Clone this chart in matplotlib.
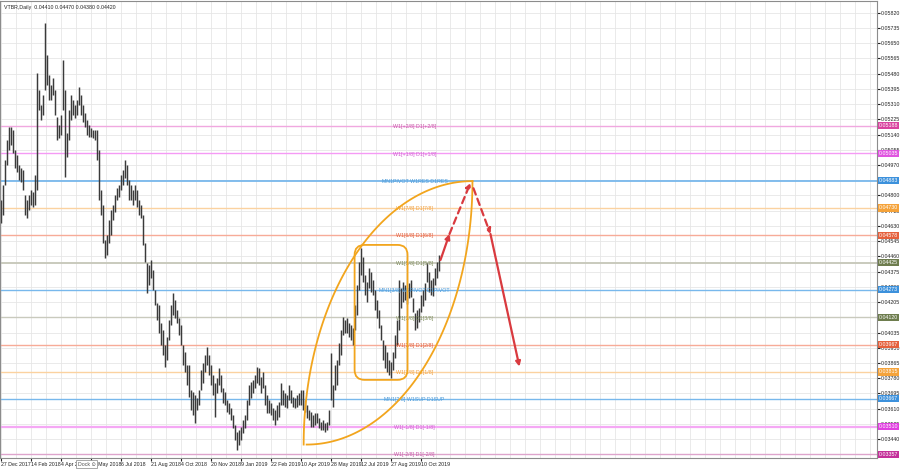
import matplotlib
matplotlib.use("Agg")
import matplotlib.pyplot as plt
import matplotlib.transforms as mtransforms
from matplotlib.patches import FancyBboxPatch
import numpy as np

# ---------------- data (prices in 1e-5 units) ----------------
highs = [4775, 4859, 4998, 5110, 5182, 5182, 5166, 5054, 5026, 4970,
         4954, 4942, 4803, 4775, 4803, 4831, 4820, 4914, 5484, 5389,
         5305, 5361, 5763, 5584, 5472, 5417, 5456, 5389, 5238, 5193,
         5249, 5556, 5389, 5149, 5277, 5361, 5333, 5305, 5333, 5406,
         5361, 5305, 5260, 5221, 5193, 5177, 5166, 5166, 5166, 5054,
         4831, 4747, 4552, 4580, 4663, 4719, 4747, 4803, 4842, 4859,
         4914, 4942, 4998, 4970, 4887, 4859, 4831, 4859, 4831, 4775,
         4747, 4691, 4535, 4423, 4412, 4440, 4384, 4273, 4200, 4189,
         4089, 4050, 3966, 4011, 4105, 4189, 4256, 4217, 4161, 4117,
         4077, 3966, 3927, 3854, 3854, 3715, 3704, 3687, 3670, 3715,
         3826, 3865, 3910, 3955, 3910, 3854, 3798, 3754, 3782, 3838,
         3798, 3726, 3704, 3659, 3642, 3614, 3575, 3519, 3480, 3492,
         3508, 3547, 3575, 3659, 3743, 3759, 3771, 3798, 3843, 3838,
         3787, 3815, 3743, 3687, 3659, 3642, 3614, 3603, 3631, 3648,
         3754, 3715, 3698, 3687, 3743, 3715, 3676, 3670, 3687, 3698,
         3715, 3715, 3659, 3631, 3603, 3592, 3575, 3586, 3586, 3559,
         3536, 3547, 3531, 3536, 3603, 3921, 3743, 3854, 3882, 3977,
         4050, 4122, 4105, 4117, 4089, 4077, 4061, 4189, 4301, 4429,
         4507, 4457, 4356, 4317, 4396, 4373, 4329, 4273, 4217, 4161,
         4077, 3994, 3966, 3927, 3882, 3871, 3927, 4022, 4105, 4329,
         4284, 4317, 4301, 4273, 4312, 4329, 4228, 4144, 4161, 4172,
         4245, 4273, 4312, 4423, 4373, 4329, 4340, 4396, 4429, 4470]
lows = [4647, 4691, 4859, 4970, 5054, 5082, 5037, 4954, 4931, 4887,
        4875, 4831, 4691, 4675, 4719, 4747, 4736, 4747, 4831, 5277,
        5221, 5249, 5389, 5417, 5333, 5333, 5361, 5249, 5110, 5121,
        5138, 5277, 4903, 5015, 5110, 5221, 5249, 5233, 5249, 5305,
        5249, 5210, 5182, 5138, 5127, 5127, 5121, 5110, 4998, 4775,
        4691, 4535, 4451, 4468, 4535, 4580, 4663, 4708, 4775, 4792,
        4831, 4859, 4898, 4859, 4775, 4775, 4747, 4775, 4736, 4691,
        4675, 4524, 4429, 4256, 4301, 4340, 4273, 4189, 4105, 4033,
        3966, 3910, 3843, 3882, 3994, 4077, 4133, 4117, 4089, 4022,
        3966, 3854, 3815, 3743, 3676, 3603, 3575, 3531, 3603, 3631,
        3715, 3754, 3815, 3854, 3798, 3743, 3687, 3564, 3698, 3743,
        3704, 3642, 3631, 3592, 3581, 3547, 3503, 3436, 3380, 3408,
        3436, 3475, 3503, 3547, 3631, 3670, 3698, 3726, 3754, 3743,
        3698, 3726, 3631, 3586, 3586, 3575, 3547, 3519, 3547, 3564,
        3631, 3631, 3620, 3614, 3659, 3642, 3620, 3614, 3620, 3631,
        3631, 3603, 3592, 3559, 3547, 3508, 3508, 3519, 3531, 3503,
        3492, 3492, 3480, 3492, 3519, 3659, 3620, 3715, 3743, 3854,
        3910, 4022, 4033, 4033, 4011, 3994, 3966, 4050, 4133, 4273,
        4356, 4317, 4245, 4206, 4284, 4262, 4245, 4161, 4117, 4061,
        3994, 3882, 3838, 3815, 3798, 3782, 3826, 3893, 3966, 4050,
        4172, 4206, 4217, 4195, 4228, 4234, 4150, 4050, 4061, 4094,
        4150, 4184, 4217, 4317, 4262, 4245, 4239, 4301, 4340, 4380]

date_labels = ["27 Dec 2017", "14 Feb 2018", "4 Apr 2018", "22 May 2018", "6 Jul 2018",
               "21 Aug 2018", "4 Oct 2018", "20 Nov 2018", "9 Jan 2019", "22 Feb 2019",
               "10 Apr 2019", "28 May 2019", "12 Jul 2019", "27 Aug 2019", "10 Oct 2019"]
date_bars = [0, 15, 30, 45, 60, 75, 90, 105, 120, 135, 150, 165, 180, 195, 210]

levels = [0.05188, 0.05035, 0.04883, 0.04730, 0.04578, 0.04425, 0.04273,
          0.04120, 0.03967, 0.03815, 0.03667, 0.03510, 0.03357]
level_names = ["W1[+2/8] D1[+2/8]", "W1[+1/8] D1[+1/8]", "MN1PIVOT W1RES D1RES",
               "W1[7/8] D1[7/8]", "W1[6/8] D1[6/8]", "W1[5/8] D1[5/8]",
               "MN1[3/8] W1PIVOT D1PIVOT", "W1[3/8] D1[3/8]", "W1[2/8] D1[2/8]",
               "W1[1/8] D1[1/8]", "MN1[2/8] W1SUP D1SUP", "W1[-1/8] D1[-1/8]",
               "W1[-2/8] D1[-2/8]"]

# forecast path and drawings (bar index, price)
path_up = [(220, 0.04440), (224.5, 0.04585), (235, 0.04870)]
path_down = [(236.5, 0.04840), (245, 0.04585), (259.5, 0.03845)]
leaf = (151.5, 0.03410, 236, 0.04880)
range_box = (177, 0.03771, 203.5, 0.04524)

# ---------------- style ----------------
plt.rcParams["font.family"] = ["Liberation Sans", "DejaVu Sans"]
line_cols = ["#f0a8e0", "#f59af5", "#78b8ec", "#fbd2a0", "#f7ab98", "#c9cabd", "#78b8ec",
             "#c9cabd", "#f7ab98", "#fbd2a0", "#78b8ec", "#f5a8f5", "#dea4cc"]
tag_cols = ["#d9439f", "#e055e0", "#3c91dc", "#f5a33a", "#e5603c", "#6e7d4e", "#3c91dc",
            "#6e7d4e", "#e5603c", "#f5a33a", "#3c91dc", "#e040e0", "#c4309a"]
txt_cols = ["#c85aa8", "#d060d0", "#4b9ad8", "#f0a040", "#e0603c", "#7d8c5a", "#4b9ad8",
            "#7d8c5a", "#e0603c", "#f0a040", "#4b9ad8", "#d060d0", "#c85aa8"]
line_w = [1.0, 1.0, 1.3, 1.0, 1.0, 1.4, 1.0, 1.0, 1.0, 1.0, 1.0, 1.6, 1.0]
red = "#d93a3f"
orange = "#f2a51d"
fs = 3.8

fig = plt.figure(figsize=(9, 4.7), dpi=100)
ax = fig.add_axes([0.0, 12 / 470, 877 / 900, 457 / 470])
ax.set_xlim(-0.5, 438.5)
ax.set_ylim(0.03335, 0.05885)

# grid
for gx in np.arange(0, 439, 7.5):
    ax.axvline(gx, color="#e6e6e6", lw=0.6, zorder=0)
yt = np.round(np.arange(0.03440, 0.05821, 0.00085), 5)
for gy in yt:
    ax.axhline(gy, color="#e6e6e6", lw=0.6, zorder=0)

# murrey levels
blend = mtransforms.blended_transform_factory(ax.transAxes, ax.transData)
for lv, name, lc, tc, tx, lw in zip(levels, level_names, line_cols, tag_cols, txt_cols, line_w):
    ax.axhline(lv, color=lc, lw=lw, zorder=1)
    ax.text(207, lv - 0.00004, name, color=tx, fontsize=fs, ha="center", va="center", zorder=3)
    ax.text(1.002, lv, f"{lv:.5f}", transform=blend, color="white", fontsize=fs,
            ha="left", va="center", zorder=5, clip_on=False,
            bbox=dict(boxstyle="square,pad=0.2", fc=tc, ec="none"))

# bars
xs = np.arange(len(highs))
ax.vlines(xs, np.array(lows) / 1e5, np.array(highs) / 1e5, color="#3a3a3a", lw=1.05, zorder=2)

# orange leaf
t = np.linspace(0, np.pi / 2, 120)
x0, y0, x1, y1 = leaf
ax.plot(x1 - (x1 - x0) * np.cos(t), y0 + (y1 - y0) * np.sin(t), color=orange, lw=1.3, zorder=4)
ax.plot(x0 + 1.5 + (x1 - x0 - 1.5) * np.sin(t), y1 - (y1 - y0) * np.cos(t), color=orange, lw=1.3, zorder=4)

# orange rounded range box
bx0, by0, bx1, by1 = range_box
aspect = (0.05885 - 0.03335) / 457 / 0.5
ax.add_patch(FancyBboxPatch((bx0, by0), bx1 - bx0, by1 - by0,
                            boxstyle="round,pad=0,rounding_size=5", mutation_aspect=aspect,
                            fc="none", ec=orange, lw=1.3, zorder=4))

# forecast arrows
def seg(p, q, ls):
    ax.annotate("", xy=q, xytext=p,
                arrowprops=dict(arrowstyle="-|>", color=red, lw=1.6, ls=ls,
                                mutation_scale=7, shrinkA=0, shrinkB=0), zorder=5)

seg(path_up[0], path_up[1], "-")
seg(path_up[1], path_up[2], (0, (3, 2)))
seg(path_down[0], path_down[1], (0, (3, 2)))
seg(path_down[1], path_down[2], "-")

# axes
ax.yaxis.tick_right()
ax.set_yticks(yt)
ax.set_yticklabels([f"{v:.5f}" for v in yt])
ax.tick_params(axis="y", labelsize=fs, length=2, pad=1, colors="#222222")
ax.set_xticks(date_bars)
ax.set_xticklabels(date_labels, ha="left")
ax.tick_params(axis="x", labelsize=fs, length=2, pad=1, colors="#222222")
for s in ax.spines.values():
    s.set_color("#8c8c8c")
    s.set_linewidth(0.8)

fig.text(4 / 900, 1 - 7 / 470, "VTBR,Daily  0.04410 0.04470 0.04380 0.04420",
         fontsize=fs, va="center", color="#222222")
fig.text(78 / 900, 1 - 464 / 470, "Dock \u2299", fontsize=fs, va="center", color="#555555",
         bbox=dict(boxstyle="square,pad=0.3", fc="white", ec="#999999", lw=0.6))

fig.savefig("out.png", dpi=100, facecolor="white")
